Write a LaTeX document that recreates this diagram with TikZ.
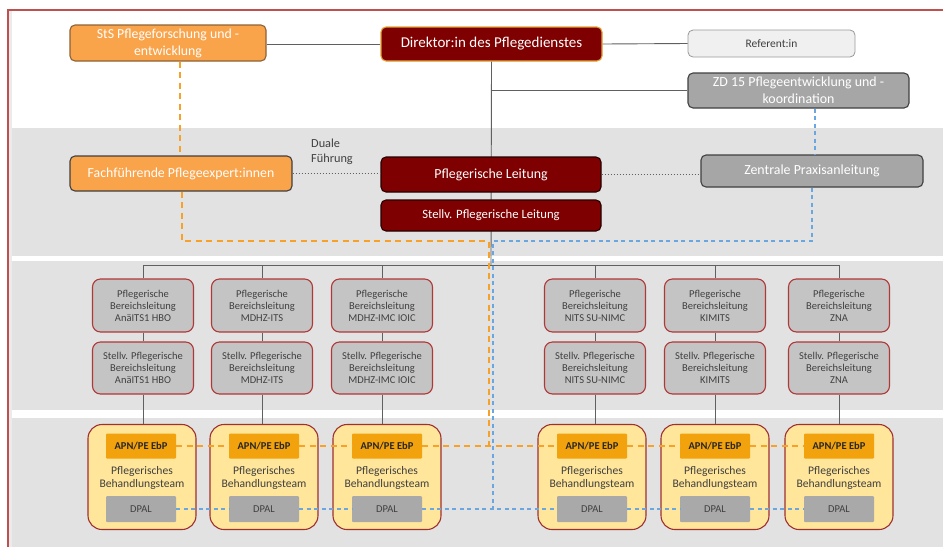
\documentclass[tikz,border=0pt]{standalone}
\usepackage{fontspec}
\setmainfont{Carlito}
\definecolor{frame}{HTML}{C0504D}
\definecolor{band}{HTML}{E2E2E2}
\definecolor{orfill}{HTML}{F9A34A}
\definecolor{darkred}{HTML}{7F0000}
\definecolor{gold}{HTML}{E3A235}
\definecolor{greyfill}{HTML}{A6A6A6}
\definecolor{reffill}{HTML}{F0F0F0}
\definecolor{blfill}{HTML}{C4C4C4}
\definecolor{blborder}{HTML}{B03838}
\definecolor{teamfill}{HTML}{FFE69A}
\definecolor{teamborder}{HTML}{A03030}
\definecolor{apnfill}{HTML}{F2A20C}
\definecolor{dpalfill}{HTML}{A9A9A9}
\definecolor{txtgrey}{HTML}{404040}
\definecolor{linegrey}{HTML}{606060}
\definecolor{dashor}{HTML}{F7A128}
\definecolor{dashbl}{HTML}{6AA6E0}
\tikzset{
  base/.style={inner sep=0pt, align=center, line width=1.1pt, rounded corners=5pt},
  orbox/.style={base, fill=orfill, text=white},
  redbox/.style={base, fill=darkred, draw=black!70!darkred, text=white},
  greybox/.style={base, fill=greyfill, draw=txtgrey, text=white},
  blbox/.style={base, fill=blfill, draw=blborder, text=txtgrey, rounded corners=8pt, minimum width=101pt, font=\fontsize{10.5}{12}\selectfont},
  teambox/.style={base, fill=teamfill, draw=teamborder, rounded corners=14pt, minimum width=108pt, minimum height=105pt},
  apnbox/.style={inner sep=0pt, fill=apnfill, rounded corners=1pt, minimum width=70pt, minimum height=25pt, text=black!85, font=\bfseries\fontsize{10.5}{11}\selectfont},
  dpalbox/.style={inner sep=0pt, fill=dpalfill, rounded corners=1pt, minimum width=70pt, minimum height=26pt, text=txtgrey, font=\fontsize{10.5}{11}\selectfont},
  teamtxt/.style={inner sep=0pt, align=center, text=txtgrey, font=\fontsize{11.6}{12.5}\selectfont},
  conn/.style={draw=linegrey, line width=0.9pt},
  dotconn/.style={draw=linegrey, line width=1pt, dotted},
  ordash/.style={draw=dashor, line width=2pt, dash pattern=on 6pt off 4.5pt},
  bldash/.style={draw=dashbl, line width=1.1pt, dash pattern=on 4pt off 3.5pt},
}
\begin{document}
\begin{tikzpicture}[x=1pt,y=-1pt]
\useasboundingbox (0,0) rectangle (943,547);
% bands
\fill[band] (10,128) rectangle (943,256);
\fill[band] (10,261) rectangle (943,410);
\fill[band] (10,418) rectangle (943,547);
\fill[black!8] (9,11) rectangle (12,547);
\draw[frame, line width=1.2pt] (8,547) -- (8,10) -- (943,10);

% top level nodes
\node[orbox, draw=black!40!orange!60!gray, minimum width=196pt, minimum height=36pt, font=\fontsize{13.8}{17}\selectfont] (sts) at (168,43) {StS Pflegeforschung und -\\entwicklung};
\node[redbox, draw=gold, minimum width=221pt, minimum height=34pt, font=\fontsize{15}{17}\selectfont] (dir) at (491.5,44) {Direktor:in des Pflegedienstes};
\node[base, fill=reffill, draw=black!40, text=txtgrey, line width=0.8pt, minimum width=167pt, minimum height=27pt, font=\fontsize{11.5}{13}\selectfont] (ref) at (771.5,43.5) {Referent:in};
\node[greybox, minimum width=221pt, minimum height=35pt, font=\fontsize{13.9}{17}\selectfont] (zd) at (798.5,90.5) {ZD 15 Pflegeentwicklung und -\\koordination};
\node[orbox, draw=txtgrey, minimum width=222pt, minimum height=35pt, font=\fontsize{13.8}{15}\selectfont] (fach) at (181,173.5) {Fachführende Pflegeexpert:innen};
\node[greybox, minimum width=222pt, minimum height=32pt, font=\fontsize{13.9}{15}\selectfont] (zpa) at (812,171) {Zentrale Praxisanleitung};
\node[inner sep=0pt, align=left, anchor=west, text=txtgrey, font=\fontsize{12.3}{15}\selectfont] (duale) at (311,152) {Duale\\Führung};

\coordinate (bus) at (491,265);
\coordinate (zdj) at (491,90.5);
\coordinate (plc) at (491,174.5);
\coordinate (splc) at (491,215.5);

% solid lines
\draw[conn] (sts.east |- dir.west) -- (dir.west);
\draw[conn] (dir.east) -- (ref.west);
\draw[conn] (zdj) -- (zd.west);
\draw[conn] (dir.south) -- (bus);

% Pflegerische Leitung nodes (drawn after trunk)
\node[redbox, minimum width=220pt, minimum height=35pt, font=\fontsize{13.9}{15}\selectfont] (pl) at (plc) {Pflegerische Leitung};
\node[redbox, minimum width=220pt, minimum height=31pt, font=\fontsize{12.7}{14}\selectfont] (spl) at (splc) {Stellv. Pflegerische Leitung};

% Bereichsleitungen
\foreach \n/\x/\t in {1/143/AnäITS1 HBO, 2/262/MDHZ-ITS, 3/382/MDHZ-IMC IOIC, 4/595/NITS SU-NIMC, 5/715/KIMITS, 6/839/ZNA}{
  \node[blbox, minimum height=53pt] (b\n) at (\x,305.5) {Pflegerische\\Bereichsleitung\\\t};
  \node[blbox, minimum height=52pt] (s\n) at (\x,368) {Stellv. Pflegerische\\Bereichsleitung\\\t};
}
% teams
\foreach \n/\x in {1/142,2/264,3/387,4/592,5/715,6/839}{
  \node[teambox] (t\n) at (\x,477) {};
}

\draw[conn] (b1.north |- bus) -- (b6.north |- bus);
\foreach \n in {1,...,6}{
  \draw[conn] (b\n.north) -- (b\n.north |- bus);
  \draw[conn] (b\n.south) -- (s\n.north);
  \draw[conn] (s\n.south) -- (s\n.south |- t\n.north);
}
% dotted
\draw[dotconn] (fach.east) -- (fach.east -| pl.west);
\draw[dotconn] (pl.east) -- (pl.east -| zpa.west);

% dashed routes
\coordinate (oc1) at (182,241);
\coordinate (oc2) at (489,241);
\coordinate (oc3) at (489,446);
\coordinate (bc1) at (812,241);
\coordinate (bc2) at (493,241);
\coordinate (bc3) at (493,509);
\draw[ordash] (sts.south -| 180,0) -- (fach.north -| 180,0);
\draw[ordash] (fach.south -| oc1) -- (oc1) -- (oc2) -- (oc3);
\draw[bldash] (zd.south -| 815,0) -- (zpa.north -| 815,0);
\draw[bldash] (zpa.south -| bc1) -- (bc1) -- (bc2) -- (bc3);

% team contents
\foreach \n/\x in {1/142,2/264,3/387,4/592,5/715,6/839}{
  \node[teamtxt] (p\n) at (\x,478) {Pflegerisches\\Behandlungsteam};
}
\foreach \n/\x in {1/141,2/264,3/387,4/592,5/715,6/839}{
  \node[apnbox] (a\n) at (\x,446) {APN/PE EbP};
  \node[dpalbox] (d\n) at (\x,509) {DPAL};
}
\draw[ordash] (a1.east) -- (a2.west);
\draw[ordash] (a2.east) -- (a3.west);
\draw[ordash] (a3.east) -- (a4.west);
\draw[ordash] (a4.east) -- (a5.west);
\draw[ordash] (a5.east) -- (a6.west);
\draw[bldash] (d1.east) -- (d2.west);
\draw[bldash] (d2.east) -- (d3.west);
\draw[bldash] (d3.east) -- (d4.west);
\draw[bldash] (d4.east) -- (d5.west);
\draw[bldash] (d5.east) -- (d6.west);
\end{tikzpicture}
\end{document}
